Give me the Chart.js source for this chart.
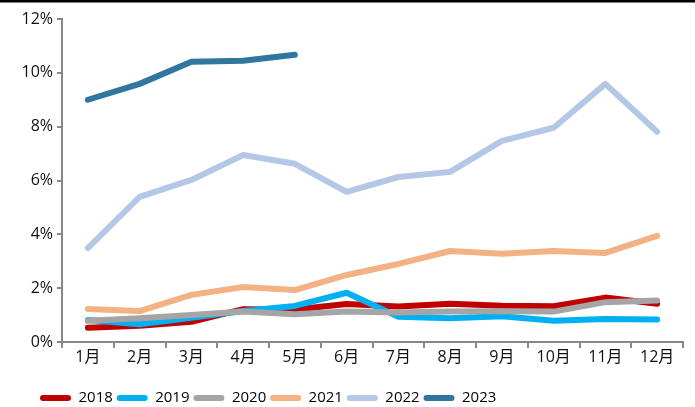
<!DOCTYPE html>
<html>
<head>
<meta charset="utf-8">
<script src="https://cdn.jsdelivr.net/npm/chart.js@4.4.0/dist/chart.umd.min.js"></script>
<style>
  html, body { margin: 0; padding: 0; background: #fff; }
  #wrap { width: 695px; height: 407px; position: relative; }
</style>
</head>
<body>
<div id="wrap"><canvas id="chart"></canvas></div>
<script>
// data
const months = ['1月', '2月', '3月', '4月', '5月', '6月', '7月', '8月', '9月', '10月', '11月', '12月'];
const s2018 = [0.53, 0.60, 0.75, 1.22, 1.21, 1.41, 1.32, 1.42, 1.35, 1.33, 1.65, 1.42];
const s2019 = [0.82, 0.66, 0.90, 1.15, 1.34, 1.83, 0.94, 0.88, 0.96, 0.79, 0.85, 0.84];
const s2020 = [0.79, 0.88, 1.00, 1.13, 1.03, 1.13, 1.10, 1.13, 1.14, 1.13, 1.48, 1.54];
const s2021 = [1.23, 1.15, 1.75, 2.04, 1.93, 2.49, 2.90, 3.38, 3.28, 3.38, 3.31, 3.94];
const s2022 = [3.49, 5.39, 6.02, 6.95, 6.62, 5.58, 6.13, 6.32, 7.47, 7.96, 9.59, 7.81];
const s2023 = [9.00, 9.59, 10.41, 10.45, 10.67];
const yTicks = [0, 2, 4, 6, 8, 10, 12];

const colors = {
    '2018': '#c00000',
    '2019': '#00b0f0',
    '2020': '#a5a5a5',
    '2021': '#f4b183',
    '2022': '#b4c7e7',
    '2023': '#31769f'
};

const seriesList = [['2018', s2018], ['2019', s2019], ['2020', s2020], ['2021', s2021], ['2022', s2022], ['2023', s2023]];

const fontFamily = '"Open Sans", "Noto Sans CJK SC", sans-serif';

// thin black band at the very top of the picture
const topBand = {
    id: 'topBand',
    afterDraw(chart) {
        const ctx = chart.ctx;
        ctx.save();
        ctx.fillStyle = '#000';
        ctx.fillRect(0, 0, chart.width, 2.5);
        ctx.restore();
    }
};

// the legend sits left of centre in the reference (starts at x=40)
const legendShift = {
    id: 'legendShift',
    afterLayout(chart) {
        const lg = chart.legend;
        if (!lg || !lg.lineWidths) return;
        lg.left = 0;
        lg.right = 80 + lg.lineWidths[0];
    }
};

new Chart(document.getElementById('chart'), {
    type: 'line',
    data: {
        labels: months,
        datasets: seriesList.map(([name, values], i) => ({
            label: name,
            data: values,
            order: seriesList.length - i, // later years drawn on top
            borderColor: colors[name],
            backgroundColor: colors[name],
            borderWidth: 6,
            borderCapStyle: 'round',
            borderJoinStyle: 'round',
            pointRadius: 0,
            tension: 0,
            fill: false
        }))
    },
    options: {
        responsive: true,
        maintainAspectRatio: false,
        animation: false,
        layout: { padding: { top: 19, right: 12, left: 0, bottom: -8.5 } },
        plugins: {
            tooltip: { enabled: false },
            legend: {
                position: 'bottom',
                labels: {
                    color: '#111',
                    font: { family: fontFamily, size: 15, lineHeight: 1 },
                    boxWidth: 31,
                    boxHeight: 6,
                    padding: 0,
                    generateLabels(chart) {
                        return chart.data.datasets.map((ds, i) => ({
                            text: ds.label + ' ',
                            fillStyle: ds.borderColor,
                            strokeStyle: ds.borderColor,
                            lineWidth: 0,
                            borderRadius: 3,
                            datasetIndex: i
                        }));
                    }
                }
            }
        },
        scales: {
            x: {
                offset: true,
                grid: { offset: true, drawOnChartArea: false, drawTicks: true, tickLength: 6, color: '#888', lineWidth: 2 },
                border: { color: '#888', width: 2 },
                ticks: { color: '#111', font: { family: fontFamily, size: 16 }, padding: 0, maxRotation: 0 },
                afterFit(axis) { axis.height = 48.5; }
            },
            y: {
                min: 0,
                max: 12,
                afterBuildTicks(axis) { axis.ticks = yTicks.map(v => ({ value: v })); },
                afterFit(axis) { axis.width = 62; },
                grid: { drawOnChartArea: false, drawTicks: true, tickLength: 5, color: '#888', lineWidth: 2 },
                border: { color: '#888', width: 2 },
                ticks: {
                    color: '#111',
                    font: { family: fontFamily, size: 16 },
                    padding: 4,
                    callback: v => v + '%'
                }
            }
        }
    },
    plugins: [topBand, legendShift]
});
</script>
</body>
</html>
